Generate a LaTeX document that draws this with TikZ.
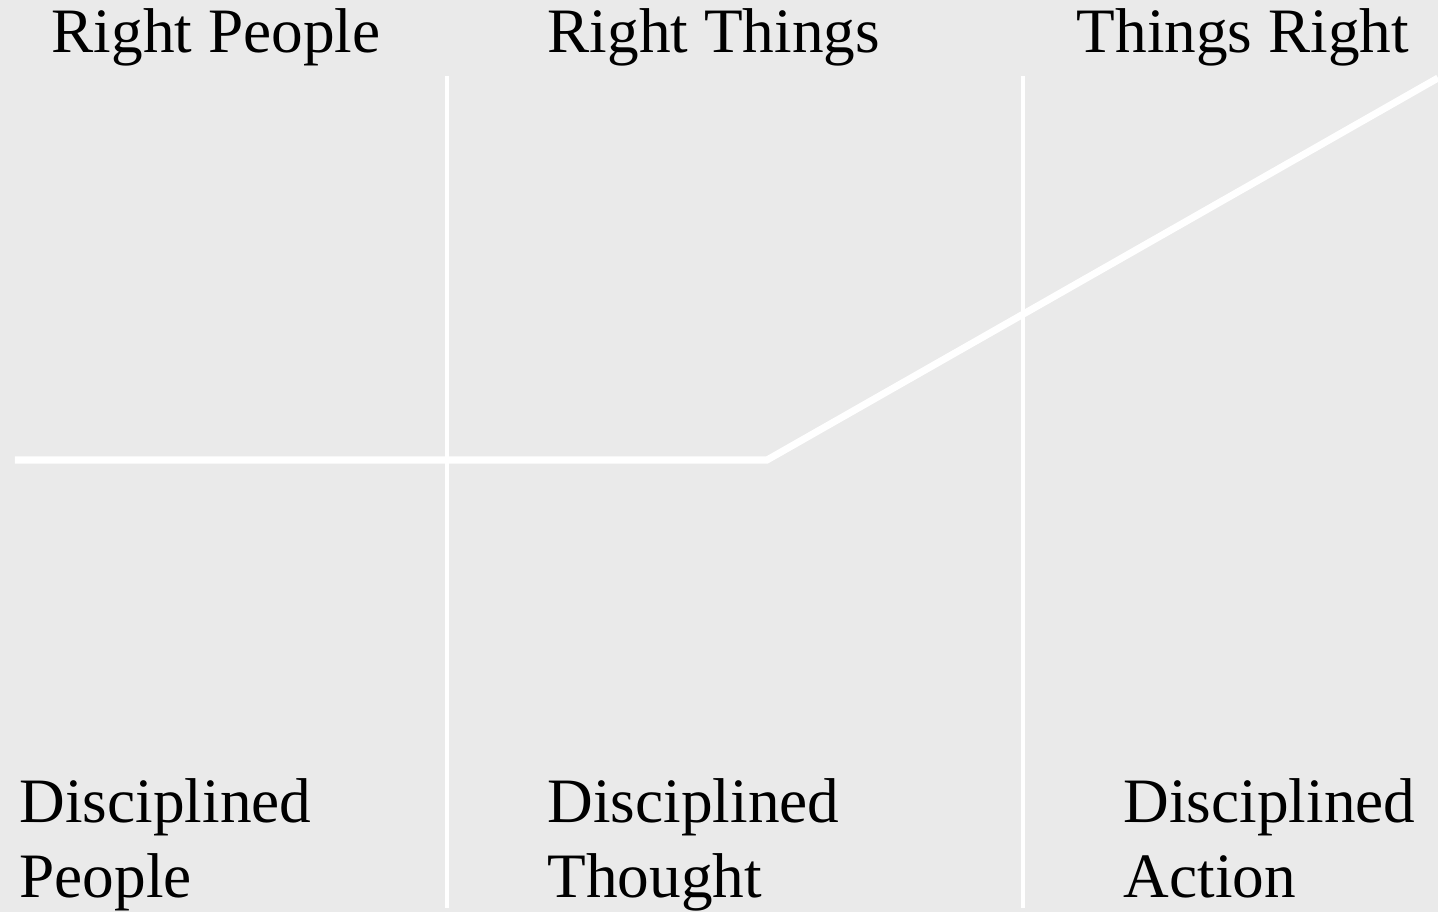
\documentclass[tikz,border=0pt]{standalone}
\usepackage{fontspec}
\setmainfont{Liberation Serif}
\usetikzlibrary{positioning}
\definecolor{panelgray}{RGB}{234,234,234}

\begin{document}
\begin{tikzpicture}[caption/.style = {anchor=base west, inner sep=0pt, align=left, font=\fontsize{18}{21.3}\selectfont},divider/.style = {draw=white, line width=1.1pt},trend/.style = {draw=white, line width=2pt, line join=miter},]
\fill[panelgray] (0,0) rectangle (14.38,9.12);
\useasboundingbox (0,0) rectangle (14.38,9.12);
\coordinate (D1top) at (4.47,8.36);
\coordinate (D1bot) at (4.47,0.04);
\coordinate (D2top) at (10.23,8.36);
\coordinate (D2bot) at (10.23,0.04);
\coordinate (start) at (0.15,4.52);
\coordinate (knee) at (7.67,4.52);
\coordinate (end) at (14.38,8.34);
\node (rp) at (0.51,8.59)[caption] {Right People};
\node (rt) at (5.47,8.59)[caption] {Right Things};
\node (tr) at (10.76,8.59)[caption] {Things Right};
\node (dp) at (0.19,0.15)[caption] {Disciplined\\People};
\node (dt) at (5.47,0.15)[caption] {Disciplined\\Thought};
\node (da) at (11.23,0.15)[caption] {Disciplined\\Action};
\draw[divider] (D1top)--(D1bot);
\draw[divider] (D2top)--(D2bot);
\draw[trend] (start)--(knee)--(end);
\end{tikzpicture}
\end{document}
